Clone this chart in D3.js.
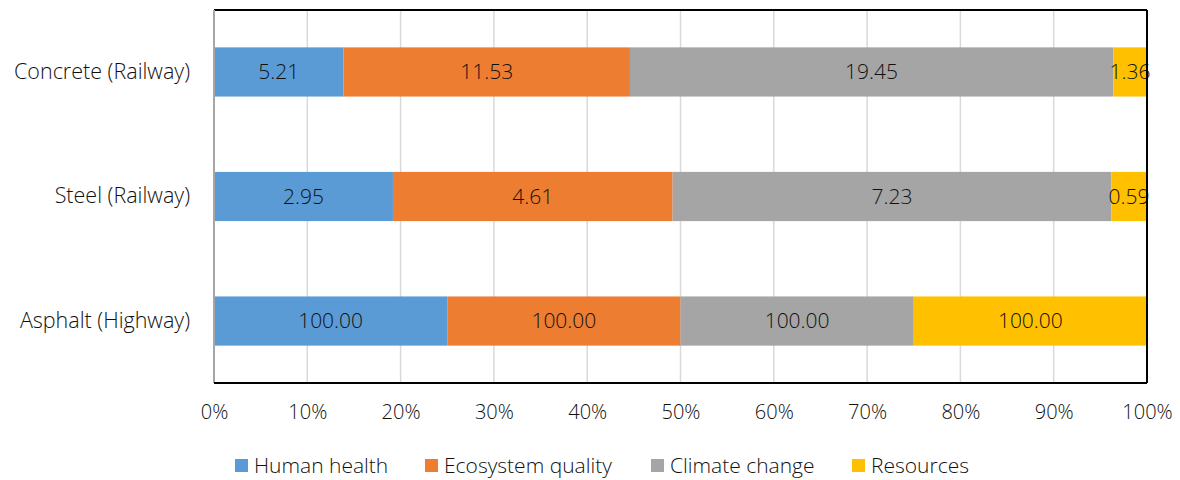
<!DOCTYPE html>
<html>
<head>
<meta charset="utf-8">
<script src="https://cdn.jsdelivr.net/npm/d3@7"></script>
<style>
  body { margin: 0; background: #fff; }
  text { font-family: "Open Sans", sans-serif; fill: #111; font-weight: 300; }
</style>
</head>
<body>
<div id="chart"></div>
<script>
// data
var categories = ['Concrete (Railway)', 'Steel (Railway)', 'Asphalt (Highway)']
var seriesNames = ['Human health', 'Ecosystem quality', 'Climate change', 'Resources']
var humanHealth = [5.21, 2.95, 100.00]
var ecosystemQuality = [11.53, 4.61, 100.00]
var climateChange = [19.45, 7.23, 100.00]
var resources = [1.36, 0.59, 100.00]
var ticks = [0, 0.1, 0.2, 0.3, 0.4, 0.5, 0.6, 0.7, 0.8, 0.9, 1]
var colors = ['#5b9bd5', '#ed7d31', '#a5a5a5', '#ffc000']

var values = [humanHealth, ecosystemQuality, climateChange, resources]

var margin = {top: 10, right: 33, bottom: 97, left: 214},
  width = 1180 - margin.left - margin.right,
  height = 480 - margin.top - margin.bottom

var svg = d3.select('#chart')
  .append('svg')
  .attr('width', 1180)
  .attr('height', 480)
  .append('g')
  .attr('transform', 'translate(' + margin.left + ',' + margin.top + ')')

var x_scale = d3.scaleLinear().domain([0, 1]).range([0, width])
var y_scale = d3.scaleBand().domain(categories).range([0, height]).paddingInner(0.605).paddingOuter(0.3)

// rows: stack as 100% shares
var rows = categories.map(function(c, i) {
  var row = {category: c}
  var total = 0
  seriesNames.forEach(function(s, j) { total += values[j][i] })
  seriesNames.forEach(function(s, j) { row[s] = values[j][i] / total; row[s + '_raw'] = values[j][i] })
  return row
})
var stacked = d3.stack().keys(seriesNames)(rows)

// gridlines
svg.selectAll('.grid')
  .data(ticks.slice(1, -1))
  .enter()
  .append('line')
  .attr('x1', d => x_scale(d))
  .attr('x2', d => x_scale(d))
  .attr('y1', 0)
  .attr('y2', height)
  .attr('stroke', '#d9d9d9')
  .attr('stroke-width', 1.5)

// bars
var layer = svg.selectAll('.layer')
  .data(stacked)
  .enter()
  .append('g')
  .attr('fill', (d, i) => colors[i])

layer.selectAll('rect')
  .data(d => d)
  .enter()
  .append('rect')
  .attr('x', d => x_scale(d[0]))
  .attr('y', d => y_scale(d.data.category))
  .attr('width', d => x_scale(d[1]) - x_scale(d[0]))
  .attr('height', y_scale.bandwidth())

// labels
stacked.forEach(function(s) {
  svg.selectAll('.lbl-' + s.index)
    .data(s)
    .enter()
    .append('text')
    .attr('x', d => (x_scale(d[0]) + x_scale(d[1])) / 2)
    .attr('y', d => y_scale(d.data.category) + y_scale.bandwidth() / 2)
    .attr('dy', '0.35em')
    .attr('text-anchor', 'middle')
    .style('font-size', '21px')
    .text(d => d.data[s.key + '_raw'].toFixed(2))
})

// frame
svg.append('line').attr('x1', 0).attr('x2', width).attr('y1', 0).attr('y2', 0).attr('stroke', '#000').attr('stroke-width', 2)
svg.append('line').attr('x1', width).attr('x2', width).attr('y1', 0).attr('y2', height).attr('stroke', '#000').attr('stroke-width', 2)
svg.append('line').attr('x1', 0).attr('x2', 0).attr('y1', 0).attr('y2', height).attr('stroke', '#a6a6a6').attr('stroke-width', 2)
svg.append('line').attr('x1', 0).attr('x2', width).attr('y1', height).attr('y2', height).attr('stroke', '#000').attr('stroke-width', 2)

// axes
var x_axis = d3.axisBottom(x_scale).tickValues(ticks).tickFormat(d3.format('.0%')).tickSize(0).tickPadding(22)
svg.append('g')
  .attr('transform', 'translate(0,' + height + ')')
  .call(x_axis)
  .call(g => g.select('.domain').remove())
  .selectAll('text')
  .style('font-size', '20px')
  .style('font-family', '"Open Sans", sans-serif')
  .attr('fill', '#111')

var y_axis = d3.axisLeft(y_scale).tickSize(0).tickPadding(24)
svg.append('g')
  .call(y_axis)
  .call(g => g.select('.domain').remove())
  .selectAll('text')
  .style('font-size', '21.5px')
  .style('font-family', '"Open Sans", sans-serif')
  .attr('fill', '#111')

// legend
var legendX = [235, 425, 651, 852]
var legend = d3.select('svg').append('g')
  .selectAll('g')
  .data(seriesNames)
  .enter()
  .append('g')
  .attr('transform', (d, i) => 'translate(' + legendX[i] + ',459)')
legend.append('rect').attr('width', 13).attr('height', 13).attr('fill', (d, i) => colors[i])
legend.append('text').attr('x', 19).attr('y', 7).attr('dy', '0.35em').style('font-size', '21px').text(d => d)
</script>
</body>
</html>
